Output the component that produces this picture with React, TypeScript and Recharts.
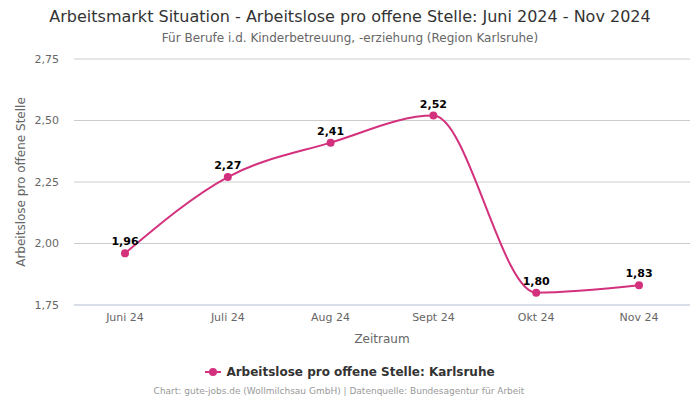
import React from "react";
import { CartesianGrid, LabelList, Line, LineChart, XAxis, YAxis } from "recharts";

const months = ["Juni 24", "Juli 24", "Aug 24", "Sept 24", "Okt 24", "Nov 24"];
const ratios = [1.96, 2.27, 2.41, 2.52, 1.8, 1.83];
const yTicks = [1.75, 2.0, 2.25, 2.5, 2.75];

const data = months.map((m, i) => ({ month: m, value: ratios[i] }));

const color = "#d3307d";
const font = "'DejaVu Sans', sans-serif";
const de = (v: number) => v.toFixed(2).replace(".", ",");

const App = () => {
  return (
    <div
      style={{
        position: "absolute",
        left: 0,
        top: 0,
        width: 700,
        height: 400,
        fontFamily: font,
        background: "#fff",
      }}
    >
      <div
        style={{
          position: "absolute",
          top: 7,
          width: 700,
          textAlign: "center",
          fontSize: 16,
          color: "#333",
        }}
      >
        Arbeitsmarkt Situation - Arbeitslose pro offene Stelle: Juni 2024 - Nov 2024
      </div>
      <div
        style={{
          position: "absolute",
          top: 31,
          width: 700,
          textAlign: "center",
          fontSize: 12,
          color: "#666",
        }}
      >
        Für Berufe i.d. Kinderbetreuung, -erziehung (Region Karlsruhe)
      </div>
      <LineChart
        width={700}
        height={400}
        data={data}
        margin={{ top: 59, right: 10, bottom: 65, left: 0 }}
        style={{ position: "absolute", left: 0, top: 0 }}
      >
        <CartesianGrid vertical={false} stroke="#cccccc" />
        <XAxis
          dataKey="month"
          padding={{ left: 51, right: 51 }}
          axisLine={{ stroke: "#ccd6eb" }}
          tickLine={false}
          tick={{ fontSize: 11, fill: "#666", fontFamily: font }}
          height={30}
          label={{
            value: "Zeitraum",
            position: "insideBottom",
            offset: -8,
            fontSize: 12,
            fill: "#666",
            fontFamily: font,
          }}
        />
        <YAxis
          domain={[1.75, 2.75]}
          ticks={yTicks}
          tickFormatter={de}
          axisLine={false}
          tickLine={false}
          tickSize={0}
          tickMargin={15}
          width={74}
          tick={{ fontSize: 11, fill: "#666", fontFamily: font }}
          label={{
            value: "Arbeitslose pro offene Stelle",
            angle: -90,
            position: "insideLeft",
            offset: 21,
            style: { textAnchor: "middle", fontSize: 12, fill: "#666", fontFamily: font },
          }}
        />
        <Line
          type="monotone"
          dataKey="value"
          stroke={color}
          strokeWidth={2}
          dot={{ r: 4, fill: color, stroke: color, strokeWidth: 0 }}
          activeDot={false}
          isAnimationActive={false}
        >
          <LabelList
            dataKey="value"
            position="top"
            offset={8}
            formatter={(v: number) => de(v)}
            style={{ fontSize: 11, fontWeight: "bold", fill: "#000", fontFamily: font }}
          />
        </Line>
      </LineChart>
      <div
        style={{
          position: "absolute",
          top: 365,
          width: 700,
          display: "flex",
          justifyContent: "center",
          alignItems: "center",
          fontSize: 12,
          fontWeight: "bold",
          color: "#333",
        }}
      >
        <svg width={16} height={10} style={{ marginRight: 5 }}>
          <line x1={0} y1={5} x2={16} y2={5} stroke={color} strokeWidth={2} />
          <circle cx={8} cy={5} r={4} fill={color} />
        </svg>
        Arbeitslose pro offene Stelle: Karlsruhe
      </div>
      <div
        style={{
          position: "absolute",
          top: 386,
          left: -11,
          width: 700,
          textAlign: "center",
          fontSize: 9,
          color: "#999",
        }}
      >
        Chart: gute-jobs.de (Wollmilchsau GmbH) | Datenquelle: Bundesagentur für Arbeit
      </div>
    </div>
  );
};

export default App;
